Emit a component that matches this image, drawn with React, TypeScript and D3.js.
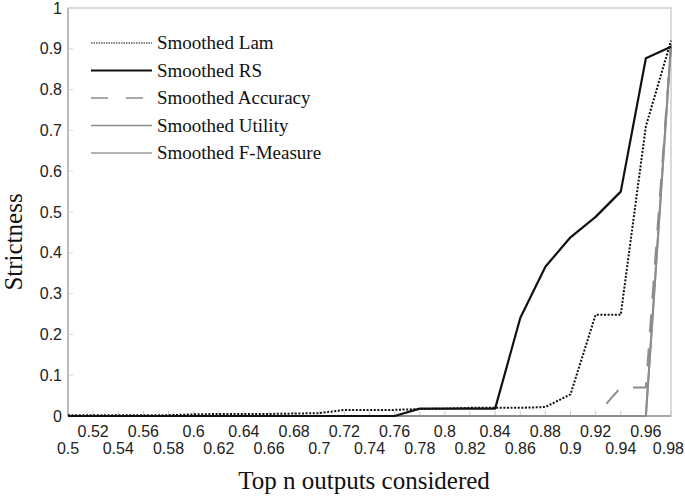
import React, { useRef, useEffect } from "react";
import * as d3 from "d3";

// top n fraction (category axis)
const topN = [
  0.5, 0.52, 0.54, 0.56, 0.58, 0.6, 0.62, 0.64, 0.66, 0.68, 0.7, 0.72, 0.74,
  0.76, 0.78, 0.8, 0.82, 0.84, 0.86, 0.88, 0.9, 0.92, 0.94, 0.96, 0.98,
];
const yTicks = [0, 0.1, 0.2, 0.3, 0.4, 0.5, 0.6, 0.7, 0.8, 0.9, 1];

const lam = [
  0.002, 0.002, 0.002, 0.002, 0.002, 0.004, 0.005, 0.005, 0.005, 0.006, 0.007,
  0.015, 0.015, 0.015, 0.017, 0.018, 0.02, 0.02, 0.02, 0.022, 0.053, 0.248,
  0.248, 0.71, 0.92,
];
const rs = [
  0, 0, 0, 0, 0, 0, 0, 0, 0, 0, 0, 0, 0, 0, 0.018, 0.018, 0.018, 0.018, 0.24,
  0.366, 0.438, 0.488, 0.55, 0.877, 0.905,
];
const accuracy = [
  0, 0, 0, 0, 0, 0, 0, 0, 0, 0, 0, 0, 0, 0, 0, 0, 0, 0, 0, 0, 0, 0, 0.07, 0.07,
  0.91,
];
const utility = [
  0, 0, 0, 0, 0, 0, 0, 0, 0, 0, 0, 0, 0, 0, 0, 0, 0, 0, 0, 0, 0, 0, 0, 0, 0.91,
];
const fMeasure = [
  0, 0, 0, 0, 0, 0, 0, 0, 0, 0, 0, 0, 0, 0, 0, 0, 0, 0, 0, 0, 0, 0, 0, 0, 0.91,
];

const seriesList = [
  { name: "Smoothed Lam", values: lam, color: "#111", width: 2, dash: "2,1.6", legendDash: "1.5,1", legendWidth: 1.2 },
  { name: "Smoothed RS", values: rs, color: "#111", width: 2.2, dash: null, legendDash: null, legendWidth: 2 },
  { name: "Smoothed Accuracy", values: accuracy, color: "#8c8c8c", width: 2, dash: "18,16", legendDash: "17,18", legendWidth: 1.5 },
  { name: "Smoothed Utility", values: utility, color: "#8c8c8c", width: 2, dash: null, legendDash: null, legendWidth: 1.5 },
  { name: "Smoothed F-Measure", values: fMeasure, color: "#9a9a9a", width: 2, dash: null, legendDash: null, legendWidth: 1.5 },
];

const App = () => {
  const svgRef = useRef(null);
  const width = 685;
  const height = 500;

  useEffect(() => {
    const margin = { top: 8, right: 14, bottom: 84, left: 68 };
    const svg = d3.select(svgRef.current);
    svg.selectAll("*").remove();

    const xScale = d3
      .scaleLinear()
      .domain([topN[0], topN[topN.length - 1]])
      .range([margin.left, width - margin.right]);
    const yScale = d3
      .scaleLinear()
      .domain([0, 1])
      .range([height - margin.bottom, margin.top]);

    const x0 = margin.left;
    const x1 = width - margin.right;
    const y0 = height - margin.bottom;
    const y1 = margin.top;

    // plot frame
    svg
      .append("rect")
      .attr("x", x0)
      .attr("y", y1)
      .attr("width", x1 - x0)
      .attr("height", y0 - y1)
      .attr("fill", "none")
      .attr("stroke", "#cfcfcf")
      .attr("stroke-width", 1.5);

    // x ticks (inside, pointing up)
    svg
      .append("g")
      .selectAll("line")
      .data(topN)
      .join("line")
      .attr("x1", (d) => xScale(d))
      .attr("x2", (d) => xScale(d))
      .attr("y1", y0)
      .attr("y2", y0 - 5)
      .attr("stroke", "#c8c8c8");

    // y ticks
    svg
      .append("g")
      .selectAll("line")
      .data(yTicks)
      .join("line")
      .attr("x1", x0)
      .attr("x2", x0 + 5)
      .attr("y1", (d) => yScale(d))
      .attr("y2", (d) => yScale(d))
      .attr("stroke", "#d8d8d8");

    // axis lines
    svg
      .append("line")
      .attr("x1", x0)
      .attr("x2", x0)
      .attr("y1", y1)
      .attr("y2", y0)
      .attr("stroke", "#b0b0b0")
      .attr("stroke-width", 1.5);
    svg
      .append("line")
      .attr("x1", x0)
      .attr("x2", x1)
      .attr("y1", y0)
      .attr("y2", y0)
      .attr("stroke", "#9a9a9a")
      .attr("stroke-width", 1.5);

    // x tick labels, staggered in two rows; last one kept inside the frame
    svg
      .append("g")
      .selectAll("text")
      .data(topN)
      .join("text")
      .attr("x", (d, i) => (i === topN.length - 1 ? width - 1 : xScale(d)))
      .attr("y", (d, i) => (i % 2 === 1 ? 437 : 454))
      .attr("text-anchor", (d, i) => (i === topN.length - 1 ? "end" : "middle"))
      .style("font-family", "'Liberation Sans', Arial, sans-serif")
      .style("font-size", "16px")
      .attr("fill", "#222")
      .text((d) => String(d));

    // y tick labels
    svg
      .append("g")
      .selectAll("text")
      .data(yTicks)
      .join("text")
      .attr("x", x0 - 6)
      .attr("y", (d) => yScale(d))
      .attr("dy", "0.35em")
      .attr("text-anchor", "end")
      .style("font-family", "'Liberation Sans', Arial, sans-serif")
      .style("font-size", "16px")
      .attr("fill", "#222")
      .text((d) => String(d));

    const line = d3
      .line()
      .x((d, i) => xScale(topN[i]))
      .y((d) => yScale(d));

    // draw gray series first, black ones on top
    const drawOrder = [4, 3, 2, 1, 0];
    drawOrder.forEach((k) => {
      const s = seriesList[k];
      svg
        .append("path")
        .datum(s.values)
        .attr("fill", "none")
        .attr("stroke", s.color)
        .attr("stroke-width", s.width)
        .attr("stroke-dasharray", s.dash)
        .attr("stroke-linejoin", "round")
        .attr("d", line);
    });

    // legend
    const legend = svg.append("g");
    seriesList.forEach((s, i) => {
      const ly = 43 + i * 27.5;
      legend
        .append("line")
        .attr("x1", 91)
        .attr("x2", 152)
        .attr("y1", ly)
        .attr("y2", ly)
        .attr("stroke", s.color)
        .attr("stroke-width", s.legendWidth)
        .attr("stroke-dasharray", s.legendDash);
      legend
        .append("text")
        .attr("x", 157)
        .attr("y", ly + 6)
        .style("font-family", "'Liberation Serif', 'Times New Roman', serif")
        .style("font-size", "19px")
        .attr("fill", "#111")
        .text(s.name);
    });

    // axis titles
    svg
      .append("text")
      .attr("x", 364)
      .attr("y", 489)
      .attr("text-anchor", "middle")
      .style("font-family", "'Liberation Serif', 'Times New Roman', serif")
      .style("font-size", "25px")
      .attr("fill", "#111")
      .text("Top n outputs considered");
    svg
      .append("text")
      .attr("transform", "rotate(-90)")
      .attr("x", -242)
      .attr("y", 22)
      .attr("text-anchor", "middle")
      .style("font-family", "'Liberation Serif', 'Times New Roman', serif")
      .style("font-size", "25px")
      .attr("fill", "#111")
      .text("Strictness");
  }, []);

  return (
    <svg
      ref={svgRef}
      width={width}
      height={height}
      style={{ position: "absolute", left: 0, top: 0, background: "#fff" }}
    ></svg>
  );
};

export default App;
